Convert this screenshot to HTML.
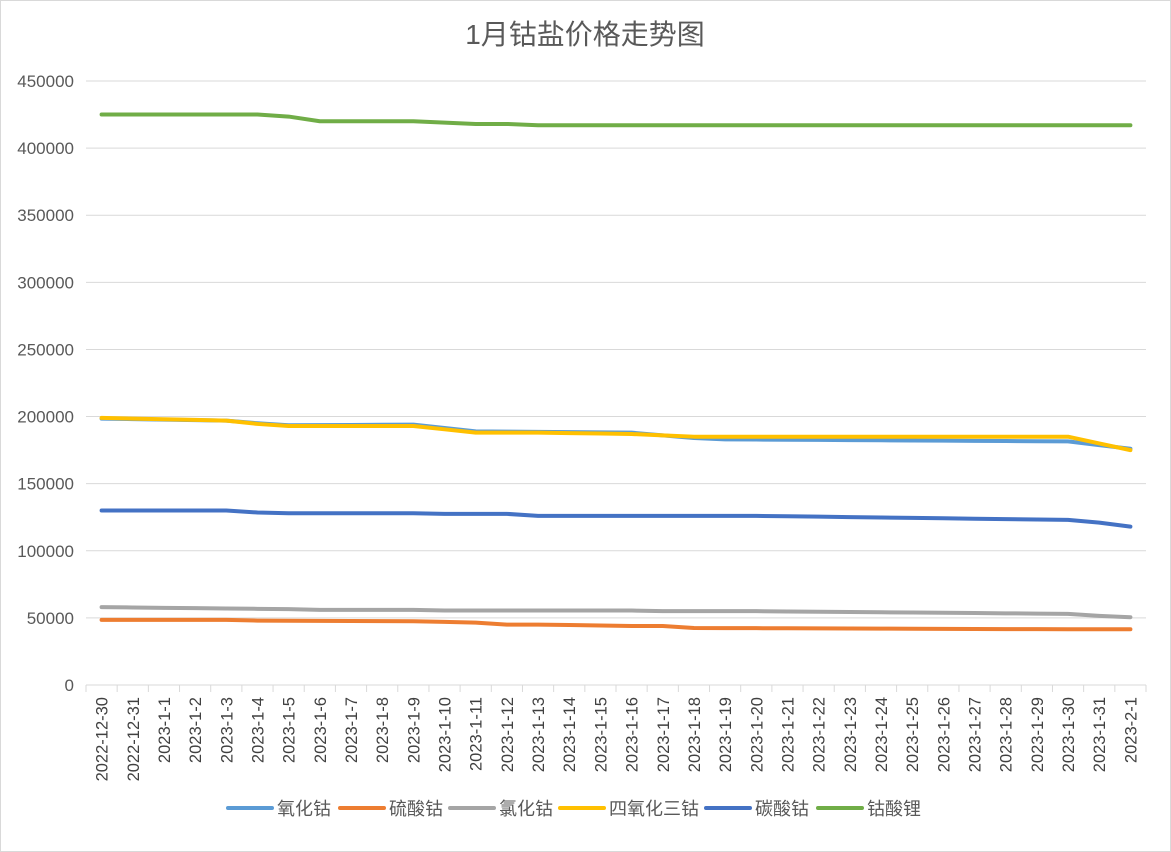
<!DOCTYPE html>
<html><head><meta charset="utf-8"><style>
html,body{margin:0;padding:0;background:#fff;}
svg{display:block;font-family:"Liberation Sans","Noto Sans CJK SC",sans-serif;}
</style></head><body>
<svg id="c" width="1171" height="852" xmlns="http://www.w3.org/2000/svg">
<rect x="0.5" y="0.5" width="1170" height="851" fill="#fff" stroke="#d9d9d9"/>
<text x="585" y="44" text-anchor="middle" font-size="28" fill="#595959">1月钴盐价格走势图</text>
</svg>
<script>
const s=document.getElementById('c');const NS='http://www.w3.org/2000/svg';
function el(t,a,txt){const e=document.createElementNS(NS,t);for(const k in a)e.setAttribute(k,a[k]);if(txt!=null)e.textContent=txt;s.appendChild(e);return e;}
const y0=685,yTop=81,x0=86,x1=1146,N=34,cw=(x1-x0)/N;
const Y=v=>y0-(v/450000)*(y0-yTop);const X=i=>x0+cw*(i+0.5);
for(let k=0;k<=9;k++){const y=Y(k*50000);
 if(k>0)el('line',{x1:x0,x2:x1,y1:y,y2:y,stroke:'#d9d9d9','stroke-width':1});
 el('text',{x:74,y:y+6,'text-anchor':'end','font-size':17,fill:'#595959'},String(k*50000));}
el('line',{x1:x0,x2:x1,y1:y0,y2:y0,stroke:'#d9d9d9','stroke-width':1});
const labels=['2022-12-30','2022-12-31'];for(let d=1;d<=31;d++)labels.push('2023-1-'+d);labels.push('2023-2-1');
for(let i=0;i<=N;i++){const x=x0+cw*i;el('line',{x1:x,x2:x,y1:y0,y2:y0+7,stroke:'#d9d9d9'});}
labels.forEach((l,i)=>{const x=X(i)+6;el('text',{x:x,y:697,transform:`rotate(-90 ${x} 697)`,'text-anchor':'end','font-size':16.5,fill:'#404040'},l);});
function ser(pts){const a=new Array(N);const m={};pts.forEach(p=>m[p[0]]=p[1]);
 const keys=pts.map(p=>p[0]);for(let i=0;i<N;i++){let k=0;while(k<keys.length-1&&keys[k+1]<=i)k++;
  if(keys[k]===i||k===keys.length-1)a[i]=m[keys[k]];else{const i0=keys[k],i1=keys[k+1];a[i]=m[i0]+(m[i1]-m[i0])*(i-i0)/(i1-i0);}}return a;}
const S=[
['氧化钴','#5b9bd5',ser([[0,198500],[4,197000],[5,195000],[6,193500],[10,194000],[12,189000],[17,188000],[19,184000],[20,183000],[31,181500],[33,176000]])],
['硫酸钴','#ed7d31',ser([[0,48500],[4,48500],[5,48000],[10,47500],[11,47000],[12,46500],[13,45000],[14,45000],[17,44000],[18,44000],[19,42500],[31,41500],[33,41500]])],
['氯化钴','#a5a5a5',ser([[0,58000],[4,57000],[6,56500],[7,56000],[10,56000],[11,55500],[17,55500],[18,55000],[21,55000],[31,53000],[32,51500],[33,50500]])],
['四氧化三钴','#ffc000',ser([[0,199000],[4,197000],[5,194500],[6,193000],[10,193000],[11,190500],[12,188000],[14,188000],[17,187000],[18,186000],[19,185000],[31,185000],[32,180000],[33,175000]])],
['碳酸钴','#4472c4',ser([[0,130000],[4,130000],[5,128500],[6,128000],[10,128000],[11,127500],[13,127500],[14,126000],[21,126000],[31,123000],[32,121000],[33,118000]])],
['钴酸锂','#70ad47',ser([[0,425000],[5,425000],[6,423500],[7,420000],[10,420000],[11,419000],[12,418000],[13,418000],[14,417000],[33,417000]])]
];
S.forEach(([n,c,d])=>{el('polyline',{points:d.map((v,i)=>X(i)+','+Y(v)).join(' '),fill:'none',stroke:c,'stroke-width':4,'stroke-linejoin':'round','stroke-linecap':'round'});});
const lx=[228,340,450,560,706,818];
S.forEach(([n,c],k)=>{const x=lx[k];el('line',{x1:x,x2:x+44,y1:808,y2:808,stroke:c,'stroke-width':4,'stroke-linecap':'round'});
 el('text',{x:x+49,y:815,'font-size':18,fill:'#595959'},n);});
</script>
</body></html>
